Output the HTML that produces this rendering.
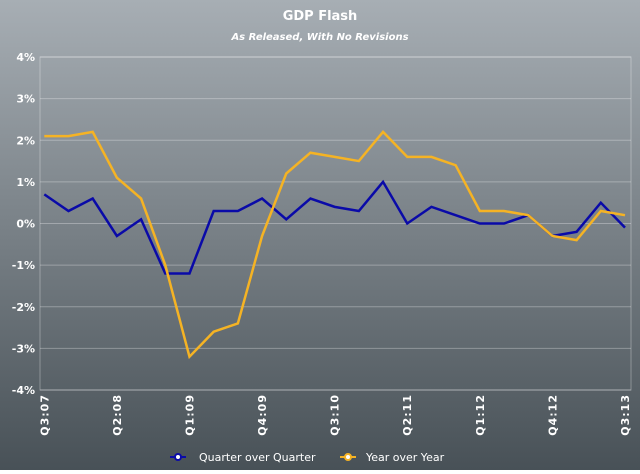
<!DOCTYPE html>
<html><head><meta charset="utf-8"><style>
html,body{margin:0;padding:0}
body{width:640px;height:470px;overflow:hidden;font-family:"DejaVu Sans","Liberation Sans",sans-serif}
</style></head><body>
<svg id="chart" width="640" height="470" xmlns="http://www.w3.org/2000/svg">
<defs><linearGradient id="bg" x1="0" y1="0" x2="0" y2="1"><stop offset="0" stop-color="#a7aeb4"/><stop offset="1" stop-color="#485157"/></linearGradient></defs>
<rect width="640" height="470" fill="url(#bg)"/>
<text x="320" y="20" text-anchor="middle" fill="#fff" font-weight="bold" font-size="13">GDP Flash</text>
<text x="320" y="40" text-anchor="middle" fill="#fff" font-weight="bold" font-style="italic" font-size="10">As Released, With No Revisions</text>
<g id="grid"></g><g id="yt"></g><g id="xt"></g><g id="lines"></g>
<g>
<g>
<line x1="170" y1="457" x2="186" y2="457" stroke="#0a0aa8" stroke-width="2"/><circle cx="178" cy="457" r="3" fill="#fff" stroke="#0a0aa8" stroke-width="2"/>
<text x="199" y="461" fill="#fff" font-size="11">Quarter over Quarter</text></g>
<g>
<line x1="340" y1="457" x2="356" y2="457" stroke="#f5b324" stroke-width="2"/><circle cx="348" cy="457" r="3" fill="#fff" stroke="#f5b324" stroke-width="2"/>
<text x="366" y="461" fill="#fff" font-size="11">Year over Year</text></g>
</g>
</svg>
<script>
const quarters=["Q3:07","Q4:07","Q1:08","Q2:08","Q3:08","Q4:08","Q1:09","Q2:09","Q3:09","Q4:09","Q1:10","Q2:10","Q3:10","Q4:10","Q1:11","Q2:11","Q3:11","Q4:11","Q1:12","Q2:12","Q3:12","Q4:12","Q1:13","Q2:13","Q3:13"];
const qoq=[0.7,0.3,0.6,-0.3,0.1,-1.2,-1.2,0.3,0.3,0.6,0.1,0.6,0.4,0.3,1.0,0.0,0.4,0.2,0.0,0.0,0.2,-0.3,-0.2,0.5,-0.1];
const yoy=[2.1,2.1,2.2,1.1,0.6,-1.0,-3.2,-2.6,-2.4,-0.3,1.2,1.7,1.6,1.5,2.2,1.6,1.6,1.4,0.3,0.3,0.2,-0.3,-0.4,0.3,0.2];
const yTicks=[-4,-3,-2,-1,0,1,2,3,4];
const NS="http://www.w3.org/2000/svg";
const L=40,R=631,T=57,B=390,x0=44.3,x1=625;
const xs=i=>x0+i*(x1-x0)/(quarters.length-1);
const ys=v=>B-(v+4)/8*(B-T);
function mk(t,a,p){const e=document.createElementNS(NS,t);for(const k in a)e.setAttribute(k,a[k]);p.appendChild(e);return e;}
const grid=document.getElementById('grid'),yt=document.getElementById('yt'),xt=document.getElementById('xt'),lines=document.getElementById('lines');
mk('rect',{x:L,y:T,width:R-L,height:B-T,fill:'none',stroke:'rgba(255,255,255,0.3)'},grid);
yTicks.forEach(v=>{
 const g=mk('line',{x1:L,x2:R,y1:ys(v),y2:ys(v),stroke:'rgba(255,255,255,0.3)','stroke-width':1},grid);
 
 
 const t=mk('text',{x:35,y:ys(v)+4,'text-anchor':'end',fill:'#fff','font-size':'11','font-weight':'bold'},yt);
 t.textContent=v+'%';
 
 
});
quarters.forEach((q,i)=>{
 if(i%3)return;
 const t=mk('text',{x:0,y:0,'text-anchor':'end',fill:'#fff','font-size':'11','font-weight':'bold','letter-spacing':'1',transform:`translate(${xs(i)+4},394) rotate(-90)`},xt);
 t.textContent=q;
 
 
});
function series(d,c,n){
 const p=mk('polyline',{points:d.map((v,i)=>xs(i)+','+ys(v)).join(' '),fill:'none',stroke:c,'stroke-width':2.5,'stroke-linejoin':'miter'},lines);
 
 
}
series(qoq,'#0a0aa8','qoq-line');
series(yoy,'#f5b324','yoy-line');
</script>
</body></html>
